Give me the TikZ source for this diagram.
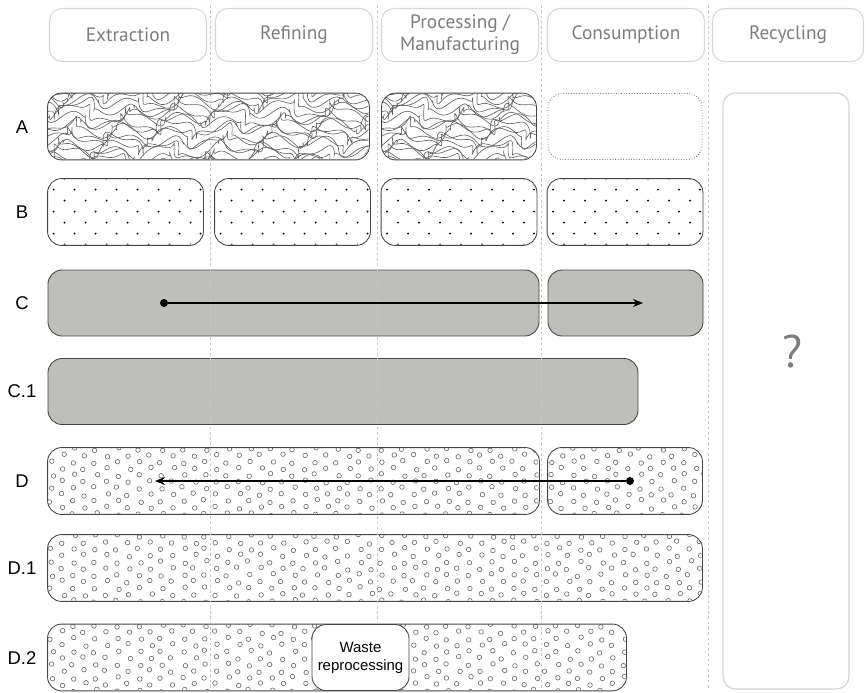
\documentclass[tikz,border=0pt]{standalone}
\usepackage{fontspec}
\setmainfont{Liberation Sans}
\newfontfamily\stagefont{PT Sans}
\usepackage{tikz}
\usetikzlibrary{arrows.meta,positioning}
\definecolor{chainEdge}{RGB}{70,70,70}
\definecolor{chainGray}{RGB}{190,190,187}
\definecolor{stageLine}{RGB}{214,214,214}
\definecolor{stageText}{RGB}{125,125,125}
\definecolor{gridLine}{RGB}{200,200,200}
\definecolor{bubbleGray}{RGB}{105,105,105}
\definecolor{topoGray}{RGB}{95,95,95}

\begin{document}
\begin{tikzpicture}[
    x=0.02cm, y=-0.02cm,
    every node/.style={font=\fontsize{10.5}{12}\selectfont},
    stage/.style={draw=stageLine, line width=0.6pt, rounded corners=7pt, minimum width=3.14cm, minimum height=1.06cm, align=center, text=stageText, font=\stagefont\fontsize{11}{12.5}\selectfont},
    bar/.style={draw=chainEdge, line width=0.5pt, rounded corners=8pt, inner sep=0pt, minimum height=1.32cm, minimum width=#1*0.02cm},
    dot/.style={circle, fill=black, inner sep=0pt, minimum size=0.16cm},
    flow/.style={line width=0.7pt, -{Stealth[length=2mm, width=1.6mm]}}
]
\useasboundingbox (0,0) rectangle (866,693);

\foreach \x/\n/\t in {128/ext/Extraction, 294/ref/Refining, 460/pro/{Processing /\\Manufacturing}, 626/con/Consumption} {
  \node[stage] (\n) at (\x,35) {\t};
}
\node[stage, minimum width=3.02cm] (rec) at (788,35) {Recycling};

\foreach \y/\n/\t in {127/la/A, 212/lb/B, 303/lc/C, 391/lc1/C.1, 481/ld/D, 568/ld1/D.1, 658/ld2/D.2} {
  \node (\n) at (22,\y) {\t};
}

\node[bar=321, draw=none] (a1) at (208.5,126.5) {};
\node[bar=154, draw=none] (a2) at (459,126.5) {};
\node[bar=154, draw=chainEdge!70, densely dotted] (a3) at (625,126.5) {};
\foreach \x/\n in {125.5/1, 292.5/2, 459/3, 625/4} {
  \node[bar=155, draw=none] (b\n) at (\x,212) {};
}
\node[bar=491, fill=chainGray] (c1) at (293.5,303) {};
\node[bar=155, fill=chainGray] (c2) at (625.5,303) {};
\node[bar=590, fill=chainGray] (c11) at (343,391.5) {};
\node[bar=491, draw=none] (d1) at (293.5,481) {};
\node[bar=154, draw=none] (d2) at (625,481) {};
\node[bar=654, draw=none] (d11) at (375,568) {};
\node[bar=578, draw=none] (d21) at (337,657.5) {};

\foreach \n/\w in {a1/321, a2/154} {
  \begin{scope}[shift={(\n.north west)}]
    \clip[rounded corners=8pt] (0,0) rectangle (\w,66);
    \foreach \k in {-5,...,16}
      \draw[topoGray, line width=0.35pt] plot[smooth, variable=\s, domain=-12:\w+12, samples=140]
        ({\s + 7*sin(9*\s + 40*\k)}, {5*\k + 6*sin(7*\s + 14*\k) + 3*sin(19*\s - 25*\k) + 3*sin(4*\s + 11*\k*\k)});
  \end{scope}
}
\foreach \n in {b1,b2,b3,b4} {
  \begin{scope}[shift={(\n.north west)}]
    \clip[rounded corners=8pt] (0,0) rectangle (155,66);
    \foreach \r in {0,...,6}
      \foreach \c in {0,...,7}
        \fill ({\c*21+6+mod(\r+1,2)*11}, {\r*11}) circle (0.6pt);
  \end{scope}
}
\foreach \n/\w/\m in {d1/491/23, d2/154/7, d11/654/30, d21/578/27} {
  \begin{scope}[shift={(\n.north west)}]
    \clip[rounded corners=8pt] (0,0) rectangle (\w,66);
    \pgfmathsetseed{\m*13+5}
    \foreach \r in {0,...,10}
      \foreach \c in {0,...,\m}
        \draw[bubbleGray, line width=0.35pt] ({\c*22+4+mod(\r,2)*11+2.2*rand}, {\r*6.5+1.5+1.5*rand}) circle (1.3pt);
  \end{scope}
}
\foreach \n in {a1,a2,b1,b2,b3,b4,d1,d2,d11,d21} \draw[chainEdge, line width=0.5pt, rounded corners=8pt] (\n.north west) rectangle (\n.south east);

\foreach \x in {210,377,541,708} \draw[gridLine, line width=0.4pt, dash pattern=on 1.5pt off 1.5pt] (\x,5) -- (\x,690);

\node[bar=97, fill=white, align=center, font=\fontsize{8.5}{10.2}\selectfont] (waste) at (360.5,657.5) {Waste\\reprocessing};
\node[draw=stageLine, line width=0.7pt, rounded corners=7pt, minimum width=2.52cm, minimum height=11.92cm] (recbox) at (786,391) {};
\node[text=stageText, font=\stagefont\fontsize{26}{26}\selectfont] (q) at (792,352) {?};

\node[dot] (cs) at (164,303) {};
\coordinate (ce) at (643,303);
\draw[flow] (cs) -- (ce);
\node[dot] (ds) at (630,481) {};
\coordinate (de) at (155,481);
\draw[flow] (ds) -- (de);
\end{tikzpicture}
\end{document}
